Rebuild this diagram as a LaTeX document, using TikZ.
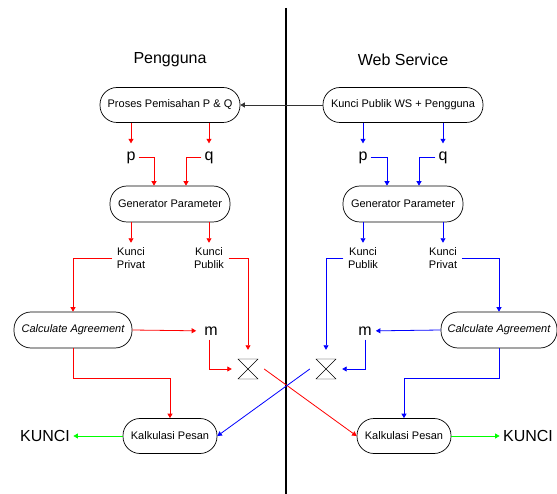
\documentclass[tikz,border=0pt]{standalone}
\usepackage{fontspec}
\setmainfont{Liberation Sans}
\usetikzlibrary{calc}
\usetikzlibrary{arrows.meta}

\begin{document}
\begin{tikzpicture}[x=1pt, y=-1pt, font=\fontsize{11}{13}\selectfont,
  proses/.style={draw, line width=0.7pt, rounded corners=17pt, minimum height=35pt, inner sep=2pt},
  judul/.style={font=\fontsize{16}{18}\selectfont},
  huruf/.style={font=\fontsize{16}{18}\selectfont, inner xsep=3pt, inner ysep=8pt},
  kunci/.style={align=center, inner sep=4.5pt},
  jam/.style={minimum width=32pt, minimum height=38pt, inner sep=0pt},
  merah/.style={red, line width=0.8pt, -{Triangle[length=4.5pt, width=5pt]}},
  biru/.style={blue, line width=0.8pt, -{Triangle[length=4.5pt, width=5pt]}},
  hijau/.style={green, line width=0.8pt, -{Triangle[length=4.5pt, width=5pt]}}]

\useasboundingbox (0,0) rectangle (557,494);
\draw[line width=2.5pt] (286,8) -- (286,494);

\node[judul] (tPengguna) at (170,60) {Pengguna};
\node[judul] (tWS) at (403,60) {Web Service};

\node[proses, minimum width=140pt] (pisah) at (170,105) {Proses Pemisahan P \& Q};
\node[proses, minimum width=160pt] (kunciWS) at (403,105) {Kunci Publik WS + Pengguna};
\draw[black!80, line width=0.8pt, -{Triangle[length=4.5pt, width=5pt]}] (kunciWS) -- (pisah);

% sisi pengguna
\node[huruf] (pA) at (131,157.5) {p};
\node[huruf] (qA) at (209,157.5) {q};
\node[proses, minimum width=120pt, minimum height=36pt] (genA) at (170,204) {Generator Parameter};
\node[kunci] (kprivA) at (131,258) {Kunci\\Privat};
\node[kunci] (kpubA) at (209,258) {Kunci\\Publik};
\node[proses, minimum width=118pt, minimum height=36pt, font=\fontsize{11}{13}\selectfont\itshape] (calcA) at (73,330) {Calculate Agreement};
\node[huruf, inner xsep=8pt, inner ysep=4pt] (mA) at (211,331) {m};
\node[jam] (hgA) at (248,369) {};
\draw ($(hgA)+(-10,-10)$) -- ++(20,0) -- ++(-20,20) -- ++(20,0) -- cycle;
\node[proses, minimum width=94pt] (kalkA) at (170,436) {Kalkulasi Pesan};
\node[judul] (kunciA) at (45,436) {KUNCI};

\draw[merah] (pisah.south -| pA) -- (pA);
\draw[merah] (pisah.south -| qA) -- (qA);
\draw[merah] (pA.east) -| ([xshift=-16pt]genA.north);
\draw[merah] (qA.west) -| ([xshift=16pt]genA.north);
\draw[merah] (genA.south -| kprivA) -- (kprivA);
\draw[merah] (genA.south -| kpubA) -- (kpubA);
\draw[merah] (kprivA.west) -| (calcA.north);
\draw[merah] (kpubA.east) -| (hgA.north);
\draw[merah] (calcA.east) -- (mA);
\draw[merah] ([xshift=-2pt]mA.south) |- (hgA.west);
\draw[merah] (calcA.south) -- ++(0,30) -| (kalkA.north);
\draw[hijau] (kalkA.west) -- (kunciA);

% sisi web service
\node[huruf] (pB) at (363,157.5) {p};
\node[huruf] (qB) at (443,157.5) {q};
\node[proses, minimum width=120pt, minimum height=36pt] (genB) at (403,204) {Generator Parameter};
\node[kunci] (kpubB) at (363,258) {Kunci\\Publik};
\node[kunci] (kprivB) at (443,258) {Kunci\\Privat};
\node[proses, minimum width=116pt, minimum height=36pt, font=\fontsize{11}{13}\selectfont\itshape] (calcB) at (499,330) {Calculate Agreement};
\node[huruf, inner xsep=4pt, inner ysep=4pt] (mB) at (365,331) {m};
\node[jam] (hgB) at (326,369) {};
\draw ($(hgB)+(-10,-10)$) -- ++(20,0) -- ++(-20,20) -- ++(20,0) -- cycle;
\node[proses, minimum width=94pt] (kalkB) at (404,436) {Kalkulasi Pesan};
\node[judul] (kunciB) at (528,436) {KUNCI};

\draw[biru] (kunciWS.south -| pB) -- (pB);
\draw[biru] (kunciWS.south -| qB) -- (qB);
\draw[biru] (pB.east) -| ([xshift=-16pt]genB.north);
\draw[biru] (qB.west) -| ([xshift=16pt]genB.north);
\draw[biru] (genB.south -| kpubB) -- (kpubB);
\draw[biru] (genB.south -| kprivB) -- (kprivB);
\draw[biru] (kpubB.west) -| (hgB.north);
\draw[biru] (kprivB.east) -| (calcB.north);
\draw[biru] (calcB.west) -- (mB);
\draw[biru] (mB.south) |- (hgB.east);
\draw[biru] (calcB.south) -- ++(0,30) -| (kalkB.north);
\draw[hijau] (kalkB.east) -- (kunciB);

% silang
\draw[merah] (hgA.east) -- (kalkB.west);
\draw[biru] (hgB.west) -- (kalkA.east);

\end{tikzpicture}
\end{document}
